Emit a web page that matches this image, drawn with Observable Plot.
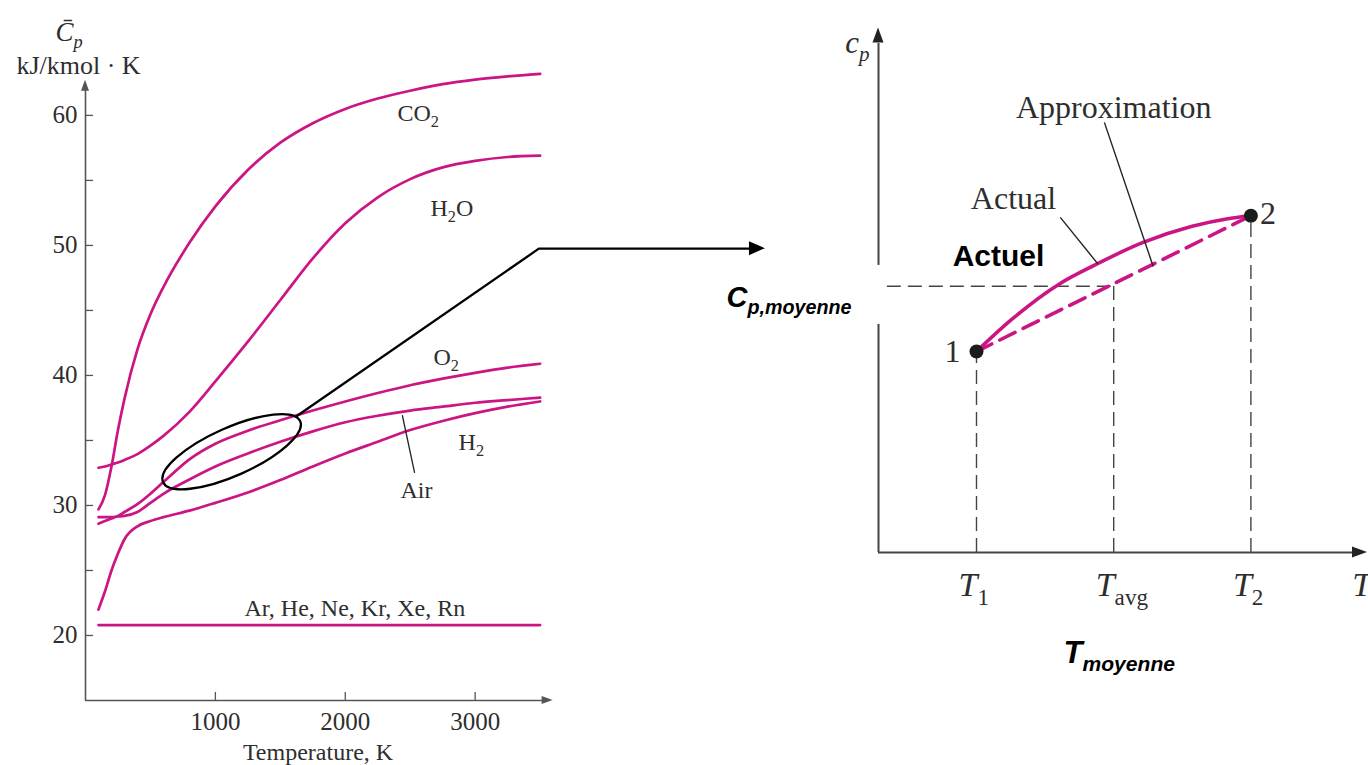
<!DOCTYPE html>
<html><head><meta charset="utf-8">
<script src="https://cdn.jsdelivr.net/npm/d3@7"></script>
<script src="https://cdn.jsdelivr.net/npm/@observablehq/plot@0.6"></script>
<style>
body{margin:0;background:#fff;}
#wrap{position:relative;width:1368px;height:765px;overflow:hidden;background:#fff;}
#wrap svg{position:absolute;left:0;top:0;}
</style></head><body><div id="wrap"></div>
<script>
// ---------- data: left panel (ideal-gas molar specific heats) ----------
const temps  = [100,150,200,250,300,400,500,600,800,1000,1250,1500,1750,2000,2250,2500,2750,3000,3250,3500];
const cpCO2  = [29.7,30.8,33.0,35.8,38.2,42.0,44.7,46.8,50.2,53.0,55.8,57.9,59.4,60.5,61.3,61.9,62.4,62.75,63.0,63.2];
const cpH2O  = [32.9,33.0,33.15,33.3,33.5,33.95,34.6,35.35,37.2,39.55,42.6,45.8,49.0,51.7,53.7,55.1,56.0,56.5,56.8,56.9];
const cpO2   = [28.6,28.8,29.0,29.2,29.5,30.1,30.9,31.8,33.55,34.75,35.75,36.55,37.3,38.0,38.65,39.25,39.75,40.2,40.6,40.9];
const cpAir  = [29.1,29.1,29.1,29.15,29.2,29.5,30.2,30.9,32.0,33.0,34.0,34.9,35.7,36.4,36.9,37.3,37.6,37.9,38.1,38.3];
const cpH2   = [22.0,23.4,25.0,26.3,27.4,28.4,28.8,29.1,29.6,30.2,31.0,31.95,33.0,34.0,34.9,35.8,36.5,37.1,37.6,38.0];
const cpMono = [20.8,20.8,20.8,20.8,20.8,20.8,20.8,20.8,20.8,20.8,20.8,20.8,20.8,20.8,20.8,20.8,20.8,20.8,20.8,20.8];
const gasNames = ["CO2","H2O","O2","Air","H2","Mono"];
const gasSeries = [cpCO2,cpH2O,cpO2,cpAir,cpH2,cpMono];

const yTickLabels = [20,30,40,50,60];
const yTicksAll = [20,25,30,35,40,45,50,55,60];
const xTicks = [1000,2000,3000];

const gasLabels = ["CO_{2}","H_{2}O","O_{2}","H_{2}","Air","Ar, He, Ne, Kr, Xe, Rn"];
const gasLabelT = [2402,2656,2679,2872,2425,1224];
const gasLabelCp = [60.15,52.85,41.4,34.85,31.2,22.1];
const airLeader = [{T:2440,cp:36.9},{T:2533,cp:32.55}];
const zoomEllipse = {T:1129, cp:34.1};
const connector = [{T:1630,cp:36.9},{T:3490,cp:49.75},{T:5120,cp:49.75}];
const connectorTip = {T:5235, cp:49.75};

// ---------- data: right panel (schematic) ----------
const T1 = 2, T2 = 7.6, cp1 = 3.85, cp2 = 6.45;
const Tavg = (T1 + T2) / 2;
const cpAvg = 5.1;
const statePts = [{T:T1, cp:cp1, label:"1"},{T:T2, cp:cp2, label:"2"}];
const actualT  = [2,2.7,3.7,4.4,5.4,6.4,7.1,7.6];
const actualCp = [3.85,4.45,5.15,5.5,5.94,6.25,6.39,6.45];
const tAxisLabels = ["T_[1]","T_[avg]","T_[2]"];
const tAxisX = [T1, Tavg, T2];

// ---------- styles ----------
const serif = "'Liberation Serif','Times New Roman',serif";
const sans = "'Liberation Sans',Arial,sans-serif";
const magenta = "#cc1584";
const txt = "#2e2e2e";

const gasTable = gasNames.flatMap((g, k) => temps.map((T, i) => ({gas:g, T, cp:gasSeries[k][i]})));

const NS = "http://www.w3.org/2000/svg";
function ellipseMark(c, rx, ry, angle){
  return (index, scales) => {
    const e = document.createElementNS(NS, "ellipse");
    const px = scales.x(c.T), py = scales.y(c.cp);
    e.setAttribute("cx", px); e.setAttribute("cy", py);
    e.setAttribute("rx", rx); e.setAttribute("ry", ry);
    e.setAttribute("transform", `rotate(${angle} ${px} ${py})`);
    e.setAttribute("fill", "none"); e.setAttribute("stroke", "#000"); e.setAttribute("stroke-width", 2.3);
    return e;
  };
}
function arrowHead(xv, yv, dir, len, half, fill){
  return (index, scales) => {
    const px = scales.x(xv), py = scales.y(yv);
    const p = document.createElementNS(NS, "path");
    const d = dir === "up"
      ? `M${px},${py}L${px-half},${py+len}L${px+half},${py+len}Z`
      : `M${px},${py}L${px-len},${py-half}L${px-len},${py+half}Z`;
    p.setAttribute("d", d); p.setAttribute("fill", fill);
    return p;
  };
}

// ---------- left panel ----------
const left = Plot.plot({
  width:1368, height:765,
  marginLeft:85, marginRight:818, marginTop:85, marginBottom:65,
  x:{domain:[0,3580], axis:null}, y:{domain:[15,62.3], axis:null},
  style:{background:"transparent", fontFamily:serif, fontSize:"24px", overflow:"visible"},
  marks:[
    Plot.ruleX([0], {y1:15, y2:62.2, stroke:"#555", strokeWidth:1.6}),
    Plot.ruleY([15], {x1:0, x2:3560, stroke:"#555", strokeWidth:1.6}),
    arrowHead(0, 62.7, "up", 11, 4, "#555"),
    arrowHead(3600, 15, "right", 11, 4, "#555"),
    Plot.ruleY(yTicksAll, {x1:0, x2:62, stroke:"#555", strokeWidth:1.3}),
    Plot.ruleX(xTicks, {y1:15, y2:15.62, stroke:"#555", strokeWidth:1.3}),
    Plot.axisY({ticks:yTickLabels, tickSize:0, tickPadding:8, label:null, fill:txt, fontSize:25}),
    Plot.axisX({ticks:xTicks, tickSize:0, tickPadding:12, label:null, fill:txt, fontSize:25, tickFormat:d => String(d)}),
    Plot.text(["Temperature, K"], {text:d => d, frameAnchor:"bottom", lineAnchor:"middle", dy:52, fill:txt, fontSize:24}),
    Plot.text(["C\u0304_{p}"], {text:d => d, frameAnchor:"top-left", lineAnchor:"middle", dx:-30, dy:-53, textAnchor:"start", fontStyle:"italic", fill:txt, fontSize:27}),
    Plot.text(["kJ/kmol \u00b7 K"], {text:d => d, frameAnchor:"top-left", lineAnchor:"middle", textAnchor:"middle", dx:-7, dy:-20, fill:txt, fontSize:26}),
    Plot.line(gasTable, {x:"T", y:"cp", z:"gas", stroke:magenta, strokeWidth:2.7, curve:"monotone-x"}),
    ellipseMark(zoomEllipse, 75, 24, -24),
    Plot.line(connector, {x:"T", y:"cp", stroke:"#000", strokeWidth:2.3}),
    arrowHead(connectorTip.T, connectorTip.cp, "right", 16, 7, "#000"),
    Plot.line(airLeader, {x:"T", y:"cp", stroke:"#222", strokeWidth:1.3}),
    Plot.text(gasLabels, {text:d => d, x:(d,i) => gasLabelT[i], y:(d,i) => gasLabelCp[i], textAnchor:"start", fill:txt, fontSize:24})
  ]
});

// ---------- right panel ----------
const right = Plot.plot({
  width:1368, height:765,
  marginLeft:878, marginRight:0, marginTop:30, marginBottom:213,
  x:{domain:[0,10], axis:null}, y:{domain:[0,10], axis:null},
  style:{background:"transparent", fontFamily:serif, fontSize:"32px", overflow:"visible"},
  marks:[
    Plot.ruleX([0], {y1:0, y2:9.75, stroke:"#444", strokeWidth:2}),
    Plot.ruleY([0], {x1:0, x2:9.7, stroke:"#444", strokeWidth:2}),
    arrowHead(0, 10.05, "up", 15, 5.5, "#222"),
    arrowHead(9.98, 0, "right", 15, 5.5, "#222"),
    Plot.rect([0], {x1:-3.3, x2:0.06, y1:4.37, y2:5.5, fill:"white"}),
    Plot.ruleX(statePts, {x:"T", y1:0, y2:"cp", stroke:"#444", strokeWidth:1.4, strokeDasharray:"14,7"}),
    Plot.ruleX([Tavg], {y1:0, y2:cpAvg, stroke:"#444", strokeWidth:1.4, strokeDasharray:"14,7"}),
    Plot.ruleY([cpAvg], {x1:0.18, x2:Tavg, stroke:"#444", strokeWidth:1.4, strokeDasharray:"14,7"}),
    Plot.line(statePts, {x:"T", y:"cp", stroke:magenta, strokeWidth:3.6, strokeDasharray:"17,9"}),
    Plot.line(actualT.map((t,i) => ({T:t, cp:actualCp[i]})), {x:"T", y:"cp", stroke:magenta, strokeWidth:3.6, curve:"monotone-x"}),
    Plot.dot(statePts, {x:"T", y:"cp", r:7, fill:"#1c1c1c"}),
    Plot.text(statePts, {x:"T", y:"cp", text:"label", fill:txt, fontSize:32, filter:d => d.label === "1", textAnchor:"end", dx:-16}),
    Plot.text(statePts, {x:"T", y:"cp", text:"label", fill:txt, fontSize:32, filter:d => d.label === "2", textAnchor:"start", dx:9, dy:-2}),
    Plot.link([{x1:4.61, y1:8.24, x2:5.606, y2:5.48}], {x1:"x1", y1:"y1", x2:"x2", y2:"y2", stroke:"#222", strokeWidth:1.4}),
    Plot.link([{x1:3.71, y1:6.42, x2:4.476, y2:5.53}], {x1:"x1", y1:"y1", x2:"x2", y2:"y2", stroke:"#222", strokeWidth:1.4}),
    Plot.text(["Approximation"], {text:d => d, x:4.8, y:8.52, fill:txt, fontSize:32}),
    Plot.text(["Actual"], {text:d => d, x:2.755, y:6.78, fill:txt, fontSize:32}),
    Plot.text(["c_{p}"], {text:d => d, frameAnchor:"top-left", lineAnchor:"middle", dx:-9, dy:13, textAnchor:"end", fontStyle:"italic", fill:txt, fontSize:31}),
    Plot.text(tAxisLabels, {text:d => d, x:(d,i) => tAxisX[i], frameAnchor:"bottom", lineAnchor:"middle", dy:33, dx:-18, textAnchor:"start", fontStyle:"italic", fill:txt, fontSize:34}),
    Plot.text(["T"], {text:d => d, x:9.67, frameAnchor:"bottom", lineAnchor:"middle", dy:33, textAnchor:"start", fontStyle:"italic", fill:txt, fontSize:34}),
    Plot.text(["Actuel"], {text:d => d, x:2.449, y:5.68, fontFamily:sans, fontWeight:"bold", fill:"#000", fontSize:30}),
    Plot.text(["C_{p,moyenne}"], {text:d => d, x:-3.1, y:4.89, textAnchor:"start", fontFamily:sans, fontWeight:"bold", fontStyle:"italic", fill:"#000", fontSize:29}),
    Plot.text(["T_{moyenne}"], {text:d => d, x:3.776, y:-1.92, textAnchor:"start", fontFamily:sans, fontWeight:"bold", fontStyle:"italic", fill:"#000", fontSize:31})
  ]
});

const wrap = document.getElementById("wrap");
wrap.appendChild(left);
wrap.appendChild(right);

// subscript markup: _{..} inherits style, _[..] upright
function richText(svg){
  d3.select(svg).selectAll("text").each(function(){
    const t = this.textContent;
    if (!/_[\{\[]/.test(t)) return;
    const fs = parseFloat(getComputedStyle(this).fontSize) || 24;
    const re = /_(?:\{([^}]*)\}|\[([^\]]*)\])/g;
    const parts = []; let last = 0, m;
    while ((m = re.exec(t))) {
      if (m.index > last) parts.push({s:t.slice(last, m.index), sub:false});
      parts.push({s:m[1] != null ? m[1] : m[2], sub:true, upright:m[2] != null});
      last = re.lastIndex;
    }
    if (last < t.length) parts.push({s:t.slice(last), sub:false});
    this.textContent = "";
    const shift = fs * 0.26;
    let down = false;
    for (const p of parts) {
      const ts = document.createElementNS(NS, "tspan");
      ts.textContent = p.s;
      if (p.sub) {
        ts.setAttribute("font-size", fs * 0.68);
        if (!down) { ts.setAttribute("dy", shift); down = true; }
        if (p.upright) ts.setAttribute("font-style", "normal");
      } else if (down) {
        ts.setAttribute("dy", -shift); down = false;
      }
      this.appendChild(ts);
    }
  });
}
richText(left);
richText(right);
</script>
</body></html>
